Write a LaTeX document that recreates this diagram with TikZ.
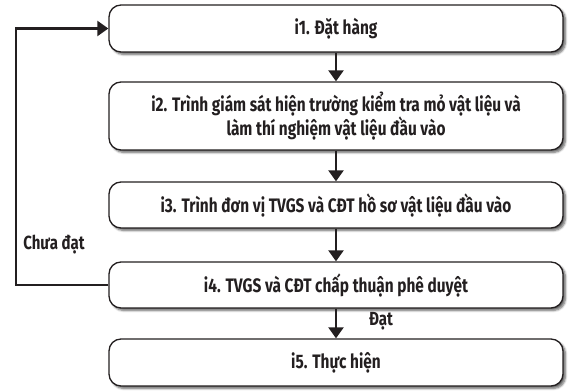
\documentclass[tikz,border=0pt]{standalone}
\usepackage{fontspec}
\setmainfont{Fira Sans}[FakeStretch=0.79]
\usetikzlibrary{shadows.blur,arrows.meta}
\definecolor{ink}{HTML}{231F20}
\tikzset{
  box/.style={draw=ink, line width=1.3pt, rounded corners=12pt, fill=white,
    minimum width=454pt, align=center, text=ink,
    font=\fontsize{19.5}{22}\selectfont\bfseries,
    blur shadow={shadow xshift=2.5pt, shadow yshift=-2.5pt, shadow blur steps=6, shadow opacity=60}},
  flow/.style={draw=ink, line width=2.3pt, -{Triangle[width=15pt,length=11pt]}},
  lbl/.style={text=ink, font=\fontsize{19}{22}\selectfont\bfseries}
}
\begin{document}
\begin{tikzpicture}[x=1pt,y=-1pt]
\useasboundingbox (0,0) rectangle (571,391);
\node[box, minimum height=47pt] (b1) at (336,28.5) {i1. Đặt hàng};
\node[box, minimum height=68pt] (b2) at (336,116) {i2. Trình giám sát hiện trường kiểm tra mỏ vật liệu và\\làm thí nghiệm vật liệu đầu vào};
\node[box, minimum height=46pt] (b3) at (336,205) {i3. Trình đơn vị TVGS và CĐT hồ sơ vật liệu đầu vào};
\node[box, minimum height=46pt] (b4) at (336,285) {i4. TVGS và CĐT chấp thuận phê duyệt};
\node[box, minimum height=47pt] (b5) at (336,362.5) {i5. Thực hiện};
\draw[flow] (b1) -- (b2);
\draw[flow] (b2) -- (b3);
\draw[flow] (b3) -- (b4);
\draw[flow] (b4) -- (b5);
\coordinate (c1) at (16,285);
\coordinate (c2) at (16,28.5);
\draw[flow] (b4.west) -- (c1) -- (c2) -- (b1.west);
\node[lbl] (l1) at (54,245) {Chưa đạt};
\node[lbl] (l2) at (381,321) {Đạt};
\end{tikzpicture}
\end{document}
